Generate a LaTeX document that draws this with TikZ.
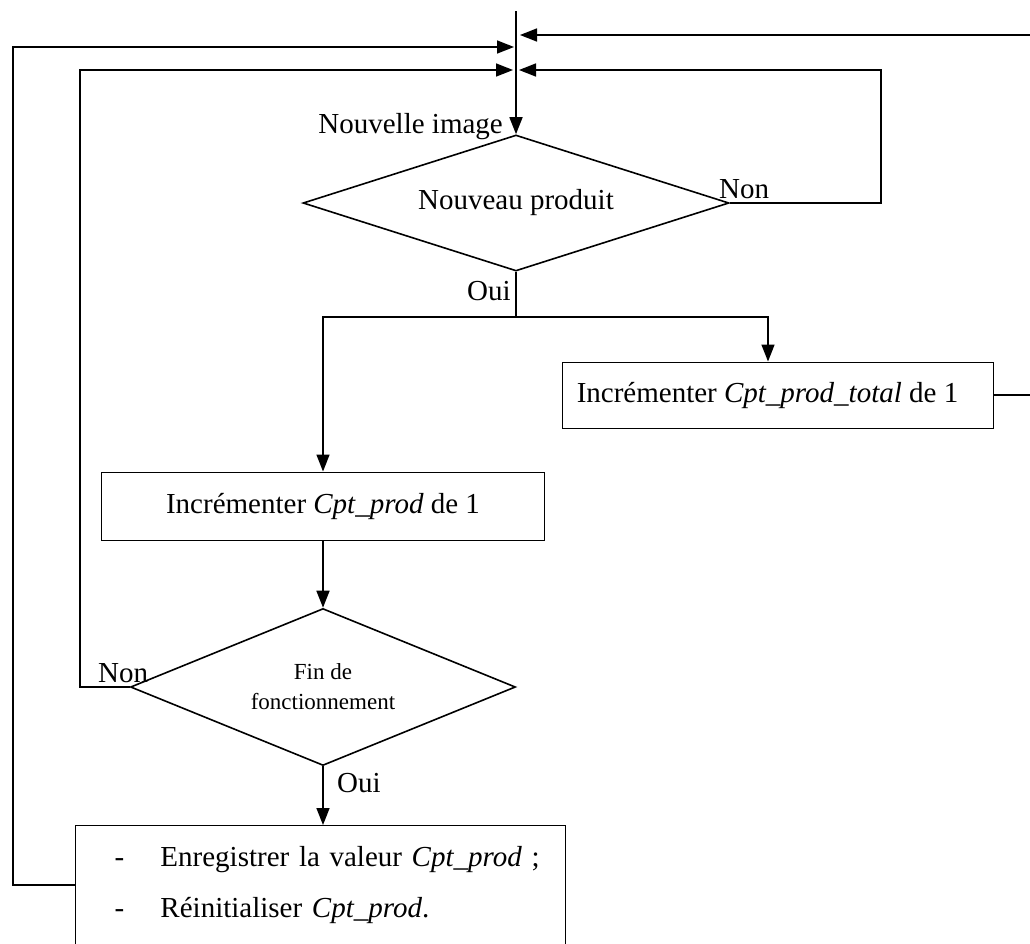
\documentclass[tikz,border=0pt]{standalone}
\usepackage{fontspec}
\setmainfont{Liberation Serif}
\usetikzlibrary{shapes.geometric,arrows.meta,calc}
\begin{document}
\begin{tikzpicture}[x=1pt,y=-1pt,
  flow/.style={line width=1.6pt},
  arr/.style={flow,-{Triangle[length=17pt,width=13pt]}},
  procbox/.style={draw,line width=1pt,inner sep=0pt,font=\fontsize{29}{34}\selectfont},
  decision/.style={draw,diamond,line width=1.6pt,inner sep=0pt},
  lbl/.style={font=\fontsize{29}{34}\selectfont,inner sep=0pt}
]
\path[use as bounding box] (0,0) rectangle (1030,943);
\clip (0,0) rectangle (1030,943);

% decisions
\node[decision,shape aspect=3.13,minimum width=426pt,minimum height=136pt,
      font=\fontsize{29}{34}\selectfont] (d1) at (516,203) {Nouveau produit};
\node[decision,shape aspect=2.45,minimum width=385pt,minimum height=157pt,
      align=center,font=\fontsize{23}{30}\selectfont] (d2) at (323,687) {Fin de\\fonctionnement};

% process boxes
\node[procbox,minimum width=431pt,minimum height=66pt] (b1) at (777.5,395)
  {Incrémenter \textit{Cpt\_prod\_total} de 1\kern20pt};
\node[procbox,minimum width=443pt,minimum height=68pt] (b2) at (323,506) {Incrémenter \textit{Cpt\_prod} de 1};
\node[procbox,anchor=north west,inner xsep=39pt,inner ysep=21pt,text width=412pt,align=left,
      font=\fontsize{29}{51}\selectfont] (b3) at (75,825)
  {\mbox{\makebox[46pt][l]{-}Enregistrer la valeur \textit{Cpt\_prod} ;}\\
   \mbox{\makebox[46pt][l]{-}Réinitialiser \textit{Cpt\_prod}.}\rule[-60pt]{0pt}{0pt}};

% junction points on the main entry line
\coordinate (top) at (516,11);
\coordinate (j1) at (516,35);
\coordinate (j2) at (516,47);
\coordinate (j3) at (516,70);
\coordinate (split) at (516,317);
\coordinate (b1in) at (768,0);

% main entry
\draw[arr] (top) -- (d1.north);

% loops back to the entry
\draw[arr,shorten >=4pt] (b1.east) -- ++(60,0) |- (j1);
\draw[arr,shorten >=2pt] (b3.north west |- 0,885) -- (13,885) |- (j2);
\draw[arr,shorten >=3pt] (d2.west) -- ++(-50,0) |- (j3);
\draw[arr,shorten >=3pt] (d1.east) -- ++(151,0) |- (j3);

% "Oui" branch of the first decision
\draw[flow] (d1.south) -- (split);
\draw[arr] (split) -| (b2.north);
\draw[arr] (split) -| (b1in |- b1.north);

% chain on the left
\draw[arr] (b2.south) -- (d2.north);
\draw[arr] (d2.south) -- (b3.north west -| d2.south);

% labels
\node[lbl,anchor=base east] (lnew) at (503,133) {Nouvelle image};
\node[lbl,anchor=base west] (lnon1) at (719,198) {Non};
\node[lbl,anchor=base west] (loui1) at (467,300) {Oui};
\node[lbl,anchor=base west] (lnon2) at (98,682) {Non};
\node[lbl,anchor=base west] (loui2) at (337,792) {Oui};
\end{tikzpicture}
\end{document}
